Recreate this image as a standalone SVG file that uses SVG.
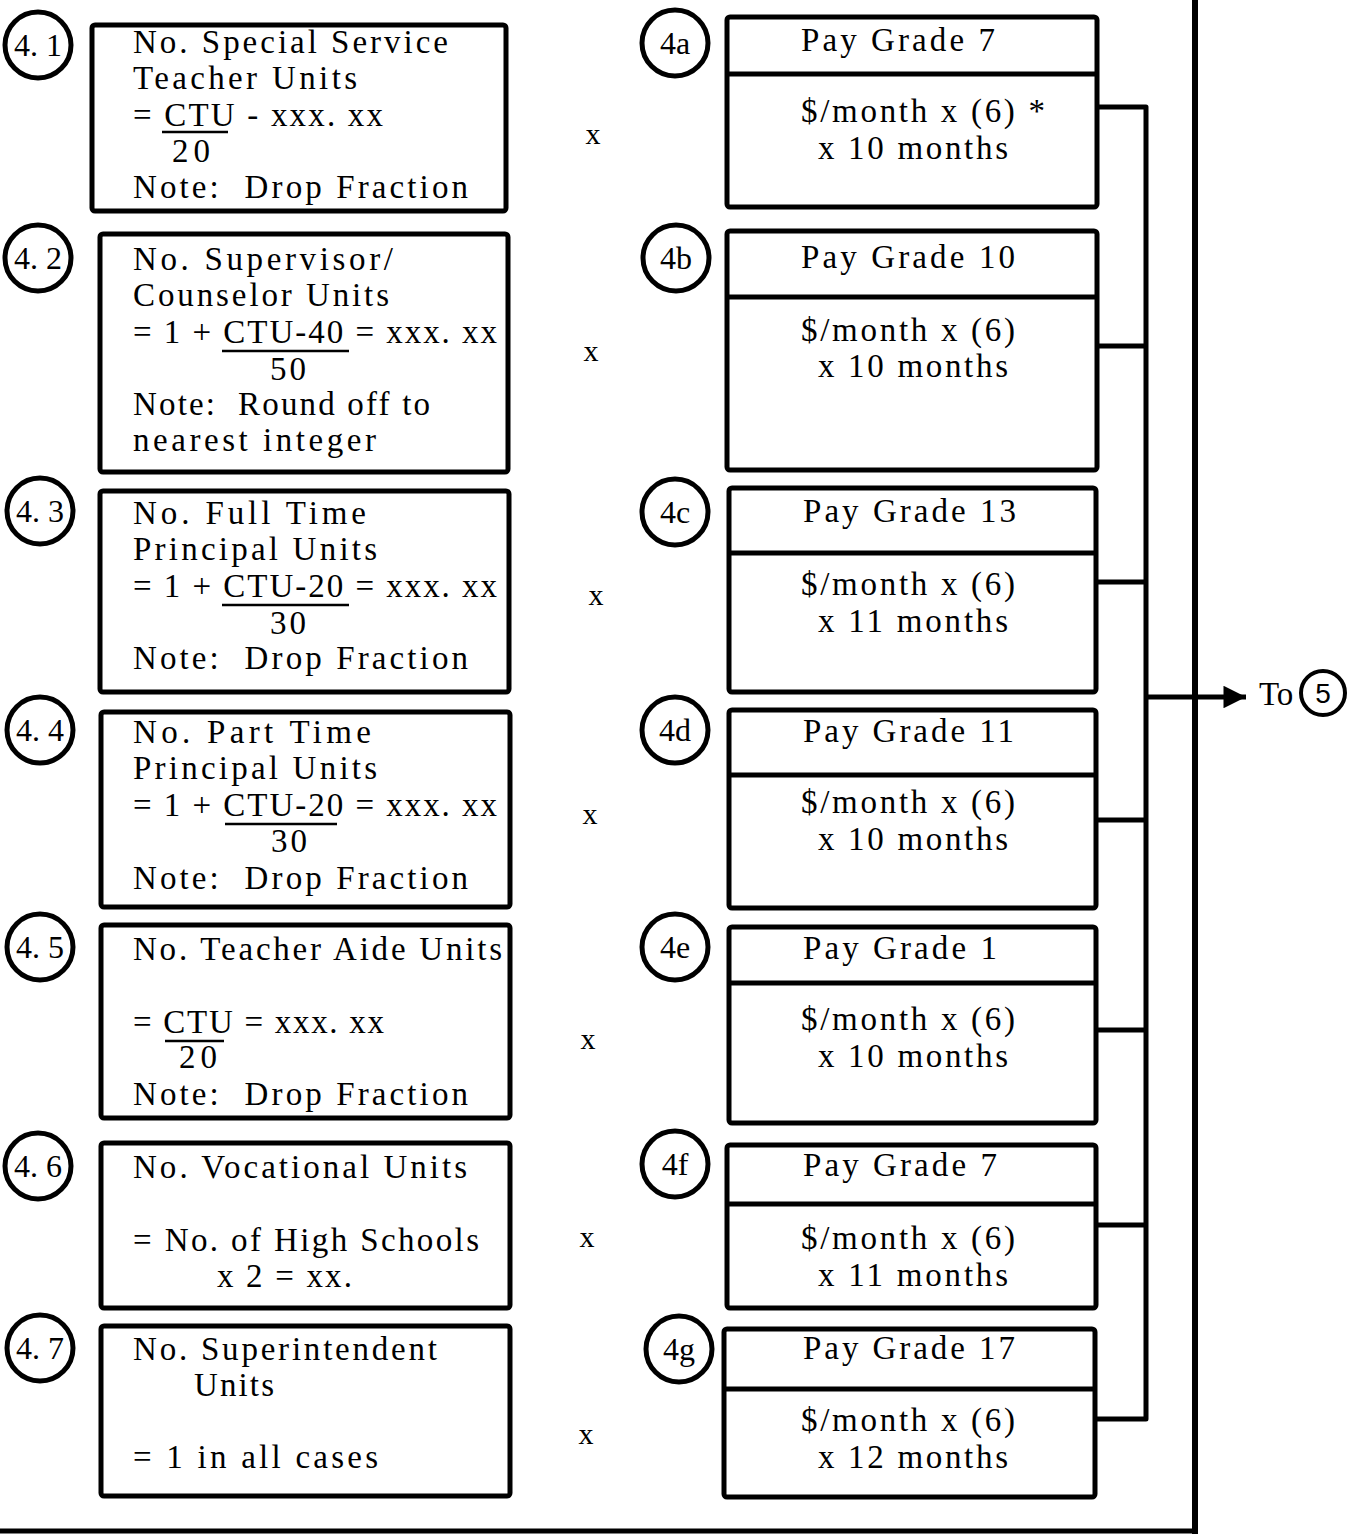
<svg xmlns="http://www.w3.org/2000/svg" width="1353" height="1536" viewBox="0 0 1353 1536">
<style>
.box{fill:none;stroke:#000;stroke-width:5;stroke-linejoin:round}
.div{stroke:#000;stroke-width:5}
.circ{fill:none;stroke:#000;stroke-width:5}
text{white-space:pre}
.t{font-family:"Liberation Serif","Times New Roman",serif;font-size:33px;fill:#000}
.r{font-family:"Liberation Serif","Times New Roman",serif;font-size:33px;fill:#000}
.c{font-family:"Liberation Serif","Times New Roman",serif;font-size:32px;fill:#000;text-anchor:middle}
.x{font-family:"Liberation Serif","Times New Roman",serif;font-size:30px;fill:#000;text-anchor:middle}
.bar{stroke:#000;stroke-width:2.5}
.wire{fill:none;stroke:#000;stroke-width:5;stroke-linejoin:round}
</style>
<defs>
<marker id="ah" viewBox="0 0 10 10" refX="10" refY="5" markerWidth="7" markerHeight="4.5" orient="auto" markerUnits="strokeWidth">
<path d="M0,0 L10,5 L0,10 z" fill="#000"/>
</marker>
</defs>

<g id="frame">
<line x1="1195" y1="0" x2="1195" y2="1534" stroke="#000" stroke-width="6"/>
<line x1="0" y1="1531" x2="1198" y2="1531" stroke="#000" stroke-width="5"/>
</g>

<g id="n4_1">
<ellipse class="circ" cx="38" cy="45" rx="33" ry="33"/>
<text class="c" x="38" y="56">4. 1</text>
<rect class="box" x="92" y="25" width="414" height="186" rx="3"/>
<text class="t" x="133" y="53" textLength="315" lengthAdjust="spacing">No. Special Service</text>
<text class="t" x="133" y="89" textLength="224" lengthAdjust="spacing">Teacher Units</text>
<text class="t" x="133" y="126" textLength="250" lengthAdjust="spacing">= CTU - xxx. xx</text>
<line class="bar" x1="162" y1="132" x2="228" y2="132"/>
<text class="t" x="172" y="162" textLength="38" lengthAdjust="spacing">20</text>
<text class="t" x="133" y="198" textLength="335" lengthAdjust="spacing">Note:  Drop Fraction</text>
</g>

<g id="n4_2">
<ellipse class="circ" cx="38" cy="258" rx="33" ry="33"/>
<text class="c" x="38" y="269">4. 2</text>
<rect class="box" x="100" y="234" width="408" height="238" rx="3"/>
<text class="t" x="133" y="270" textLength="260" lengthAdjust="spacing">No. Supervisor/</text>
<text class="t" x="133" y="306" textLength="256" lengthAdjust="spacing">Counselor Units</text>
<text class="t" x="133" y="343" textLength="364" lengthAdjust="spacing">= 1 + CTU-40 = xxx. xx</text>
<line class="bar" x1="222" y1="351" x2="349" y2="351"/>
<text class="t" x="270" y="380" textLength="36" lengthAdjust="spacing">50</text>
<text class="t" x="133" y="415" textLength="297" lengthAdjust="spacing">Note:  Round off to</text>
<text class="t" x="133" y="451" textLength="243" lengthAdjust="spacing">nearest integer</text>
</g>

<g id="n4_3">
<ellipse class="circ" cx="40" cy="511" rx="33" ry="33"/>
<text class="c" x="40" y="522">4. 3</text>
<rect class="box" x="100" y="491" width="409" height="201" rx="3"/>
<text class="t" x="133" y="524" textLength="233" lengthAdjust="spacing">No. Full Time</text>
<text class="t" x="133" y="560" textLength="244" lengthAdjust="spacing">Principal Units</text>
<text class="t" x="133" y="597" textLength="364" lengthAdjust="spacing">= 1 + CTU-20 = xxx. xx</text>
<line class="bar" x1="222" y1="605" x2="349" y2="605"/>
<text class="t" x="270" y="634" textLength="36" lengthAdjust="spacing">30</text>
<text class="t" x="133" y="669" textLength="335" lengthAdjust="spacing">Note:  Drop Fraction</text>
</g>

<g id="n4_4">
<ellipse class="circ" cx="40" cy="730" rx="33" ry="33"/>
<text class="c" x="40" y="741">4. 4</text>
<rect class="box" x="101" y="712" width="409" height="195" rx="3"/>
<text class="t" x="133" y="743" textLength="238" lengthAdjust="spacing">No. Part Time</text>
<text class="t" x="133" y="779" textLength="244" lengthAdjust="spacing">Principal Units</text>
<text class="t" x="133" y="816" textLength="364" lengthAdjust="spacing">= 1 + CTU-20 = xxx. xx</text>
<line class="bar" x1="225" y1="824" x2="337" y2="824"/>
<text class="t" x="271" y="852" textLength="36" lengthAdjust="spacing">30</text>
<text class="t" x="133" y="889" textLength="335" lengthAdjust="spacing">Note:  Drop Fraction</text>
</g>

<g id="n4_5">
<ellipse class="circ" cx="40" cy="947" rx="33" ry="33"/>
<text class="c" x="40" y="958">4. 5</text>
<rect class="box" x="101" y="925" width="409" height="193" rx="3"/>
<text class="t" x="133" y="960" textLength="369" lengthAdjust="spacing">No. Teacher Aide Units</text>
<text class="t" x="133" y="1033" textLength="251" lengthAdjust="spacing">= CTU = xxx. xx</text>
<line class="bar" x1="165" y1="1041" x2="224" y2="1041"/>
<text class="t" x="179" y="1068" textLength="38" lengthAdjust="spacing">20</text>
<text class="t" x="133" y="1105" textLength="335" lengthAdjust="spacing">Note:  Drop Fraction</text>
</g>

<g id="n4_6">
<ellipse class="circ" cx="38" cy="1166" rx="33" ry="33"/>
<text class="c" x="38" y="1177">4. 6</text>
<rect class="box" x="101" y="1143" width="409" height="165" rx="3"/>
<text class="t" x="133" y="1178" textLength="334" lengthAdjust="spacing">No. Vocational Units</text>
<text class="t" x="133" y="1251" textLength="346" lengthAdjust="spacing">= No. of High Schools</text>
<text class="t" x="217" y="1287" textLength="135" lengthAdjust="spacing">x 2 = xx.</text>
</g>

<g id="n4_7">
<ellipse class="circ" cx="40" cy="1348" rx="33" ry="33"/>
<text class="c" x="40" y="1359">4. 7</text>
<rect class="box" x="101" y="1326" width="409" height="170" rx="3"/>
<text class="t" x="133" y="1360" textLength="304" lengthAdjust="spacing">No. Superintendent</text>
<text class="t" x="194" y="1396" textLength="80" lengthAdjust="spacing">Units</text>
<text class="t" x="133" y="1468" textLength="245" lengthAdjust="spacing">= 1 in all cases</text>
</g>

<g id="times">
<text class="x" x="593" y="144">x</text>
<text class="x" x="591" y="361">x</text>
<text class="x" x="596" y="605">x</text>
<text class="x" x="590" y="824">x</text>
<text class="x" x="588" y="1049">x</text>
<text class="x" x="587" y="1247">x</text>
<text class="x" x="586" y="1444">x</text>
</g>

<g id="n4a">
<ellipse class="circ" cx="675" cy="43" rx="33" ry="33"/>
<text class="c" x="675" y="54">4a</text>
<rect class="box" x="727" y="17" width="370" height="190" rx="3"/>
<line class="div" x1="727" y1="74" x2="1097" y2="74"/>
<text class="r" x="801" y="51" textLength="194" lengthAdjust="spacing">Pay Grade 7</text>
<text class="r" x="801" y="122" textLength="244" lengthAdjust="spacing">$/month x (6) *</text>
<text class="r" x="818" y="159" textLength="190" lengthAdjust="spacing">x 10 months</text>
</g>

<g id="n4b">
<ellipse class="circ" cx="676" cy="258" rx="33" ry="33"/>
<text class="c" x="676" y="269">4b</text>
<rect class="box" x="727" y="231" width="370" height="239" rx="3"/>
<line class="div" x1="727" y1="297" x2="1097" y2="297"/>
<text class="r" x="801" y="268" textLength="214" lengthAdjust="spacing">Pay Grade 10</text>
<text class="r" x="801" y="341" textLength="214" lengthAdjust="spacing">$/month x (6)</text>
<text class="r" x="818" y="377" textLength="190" lengthAdjust="spacing">x 10 months</text>
</g>

<g id="n4c">
<ellipse class="circ" cx="675" cy="512" rx="33" ry="33"/>
<text class="c" x="675" y="523">4c</text>
<rect class="box" x="729" y="488" width="367" height="204" rx="3"/>
<line class="div" x1="729" y1="553" x2="1096" y2="553"/>
<text class="r" x="803" y="522" textLength="213" lengthAdjust="spacing">Pay Grade 13</text>
<text class="r" x="801" y="595" textLength="214" lengthAdjust="spacing">$/month x (6)</text>
<text class="r" x="818" y="632" textLength="190" lengthAdjust="spacing">x 11 months</text>
</g>

<g id="n4d">
<ellipse class="circ" cx="675" cy="730" rx="33" ry="33"/>
<text class="c" x="675" y="741">4d</text>
<rect class="box" x="729" y="710" width="367" height="198" rx="3"/>
<line class="div" x1="729" y1="775" x2="1096" y2="775"/>
<text class="r" x="803" y="742" textLength="211" lengthAdjust="spacing">Pay Grade 11</text>
<text class="r" x="801" y="813" textLength="214" lengthAdjust="spacing">$/month x (6)</text>
<text class="r" x="818" y="850" textLength="190" lengthAdjust="spacing">x 10 months</text>
</g>

<g id="n4e">
<ellipse class="circ" cx="675" cy="947" rx="33" ry="33"/>
<text class="c" x="675" y="958">4e</text>
<rect class="box" x="729" y="927" width="367" height="196" rx="3"/>
<line class="div" x1="729" y1="983" x2="1096" y2="983"/>
<text class="r" x="803" y="959" textLength="194" lengthAdjust="spacing">Pay Grade 1</text>
<text class="r" x="801" y="1030" textLength="214" lengthAdjust="spacing">$/month x (6)</text>
<text class="r" x="818" y="1067" textLength="190" lengthAdjust="spacing">x 10 months</text>
</g>

<g id="n4f">
<ellipse class="circ" cx="675" cy="1164" rx="33" ry="33"/>
<text class="c" x="675" y="1175">4f</text>
<rect class="box" x="727" y="1145" width="369" height="163" rx="3"/>
<line class="div" x1="727" y1="1204" x2="1096" y2="1204"/>
<text class="r" x="803" y="1176" textLength="194" lengthAdjust="spacing">Pay Grade 7</text>
<text class="r" x="801" y="1249" textLength="214" lengthAdjust="spacing">$/month x (6)</text>
<text class="r" x="818" y="1286" textLength="190" lengthAdjust="spacing">x 11 months</text>
</g>

<g id="n4g">
<ellipse class="circ" cx="679" cy="1349" rx="33" ry="33"/>
<text class="c" x="679" y="1360">4g</text>
<rect class="box" x="724" y="1329" width="371" height="168" rx="3"/>
<line class="div" x1="724" y1="1389" x2="1095" y2="1389"/>
<text class="r" x="803" y="1359" textLength="212" lengthAdjust="spacing">Pay Grade 17</text>
<text class="r" x="801" y="1431" textLength="214" lengthAdjust="spacing">$/month x (6)</text>
<text class="r" x="818" y="1468" textLength="190" lengthAdjust="spacing">x 12 months</text>
</g>

<g id="n5">
<text class="t" x="1259" y="705">To</text>
<circle class="circ" cx="1323" cy="693" r="22" style="stroke-width:4"/>
<text class="c" x="1323" y="703" style="font-family:'Liberation Sans',Arial,sans-serif;font-size:28px">5</text>
</g>

<g id="connectors">
<path class="wire" d="M1097,107 H1146 V1419 H1097"/>
<line class="wire" x1="1097" y1="346" x2="1146" y2="346"/>
<line class="wire" x1="1096" y1="582" x2="1146" y2="582"/>
<line class="wire" x1="1096" y1="820" x2="1146" y2="820"/>
<line class="wire" x1="1096" y1="1030" x2="1146" y2="1030"/>
<line class="wire" x1="1096" y1="1225" x2="1146" y2="1225"/>
<line class="wire" x1="1146" y1="697" x2="1246" y2="697" marker-end="url(#ah)"/>
</g>
</svg>
